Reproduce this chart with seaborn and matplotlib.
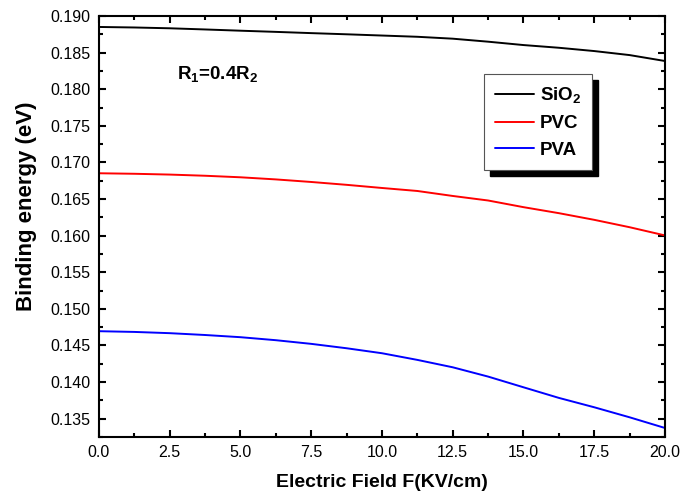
import numpy as np
import pandas as pd
import matplotlib
matplotlib.use("Agg")
import matplotlib.pyplot as plt
import seaborn as sns
from matplotlib.ticker import MultipleLocator, FormatStrFormatter
from matplotlib.lines import Line2D
from matplotlib.patches import Rectangle
from matplotlib.transforms import IdentityTransform

field = [0.0, 1.25, 2.5, 3.75, 5.0, 6.25, 7.5, 8.75, 10.0, 11.25, 12.5, 13.75, 15.0, 16.25, 17.5, 18.75, 20.0]
sio2 = [0.18850, 0.18843, 0.18832, 0.18816, 0.18799, 0.18783, 0.18766, 0.18750, 0.18733,
        0.18716, 0.18690, 0.18649, 0.18603, 0.18566, 0.18521, 0.18466, 0.18385]
pvc = [0.16852, 0.16845, 0.16834, 0.16818, 0.16797, 0.16768, 0.16733, 0.16694, 0.16651,
       0.16610, 0.16542, 0.16480, 0.16389, 0.16307, 0.16216, 0.16115, 0.16003]
pva = [0.14695, 0.14685, 0.14668, 0.14643, 0.14613, 0.14572, 0.14522, 0.14462, 0.14394,
       0.14303, 0.14202, 0.14075, 0.13929, 0.13784, 0.13656, 0.13519, 0.13373]
series_names = ["SiO$_\\mathbf{2}$", "PVC", "PVA"]
colors = ["black", "red", "blue"]

n = len(field)
df = pd.DataFrame({
    "F": field * 3,
    "E": sio2 + pvc + pva,
    "series": [series_names[0]] * n + [series_names[1]] * n + [series_names[2]] * n,
})

sns.set_theme(style="ticks")
plt.rcParams["font.family"] = ["Liberation Sans", "DejaVu Sans"]
plt.rcParams["mathtext.fontset"] = "custom"
plt.rcParams["mathtext.rm"] = "Liberation Sans"
plt.rcParams["mathtext.bf"] = "Liberation Sans:bold"
for k in ["text.color", "axes.labelcolor", "xtick.color", "ytick.color", "axes.edgecolor"]:
    plt.rcParams[k] = "black"

fig = plt.figure(figsize=(6.98, 4.98), dpi=100)
ax = fig.add_axes([0.1418, 0.1225, 0.8109, 0.8454])

sns.lineplot(data=df, x="F", y="E", hue="series", palette=colors, ax=ax, linewidth=1.4, legend=False)

ax.set_xlim(0, 20)
ax.set_ylim(0.1325, 0.190)
ax.xaxis.set_major_locator(MultipleLocator(2.5))
ax.xaxis.set_minor_locator(MultipleLocator(1.25))
ax.yaxis.set_major_locator(MultipleLocator(0.005))
ax.yaxis.set_minor_locator(MultipleLocator(0.0025))
ax.xaxis.set_major_formatter(FormatStrFormatter("%.1f"))
ax.yaxis.set_major_formatter(FormatStrFormatter("%.3f"))
ax.tick_params(which="both", direction="in", top=True, right=True, width=1.5, colors="black")
ax.tick_params(which="major", length=5, labelsize=11.5, pad=6)
ax.tick_params(which="minor", length=3)
for s in ax.spines.values():
    s.set_linewidth(1.5)
    s.set_color("black")

ax.set_xlabel("Electric Field F(KV/cm)", fontsize=14, fontweight="bold", labelpad=10)
ax.set_ylabel("Binding energy (eV)", fontsize=16, fontweight="bold")
ax.yaxis.set_label_coords(-0.110, 0.549)

ax.text(0.138, 0.860, "R$_\\mathbf{1}$=0.4R$_\\mathbf{2}$", transform=ax.transAxes,
        fontsize=13.5, fontweight="bold", va="center", ha="left")

handles = [Line2D([0], [0], color=c, lw=1.4) for c in colors]
leg = ax.legend(handles, series_names, loc="upper left", bbox_to_anchor=(0.680, 0.862),
                borderaxespad=0, frameon=True, fancybox=False, shadow=False,
                edgecolor="#555555", framealpha=1.0, prop={"weight": "bold", "size": 13.5},
                handlelength=2.1, handletextpad=0.27, borderpad=0.6, labelspacing=0.5)
leg.get_frame().set_linewidth(0.8)

fig.canvas.draw()
bb = leg.get_frame().get_window_extent()
shadow = Rectangle((bb.x0 + 6, bb.y0 - 6), bb.width, bb.height, transform=IdentityTransform(),
                   facecolor="black", edgecolor="black", zorder=4.9, clip_on=False)
ax.add_artist(shadow)

fig.savefig("out.png", dpi=100)
